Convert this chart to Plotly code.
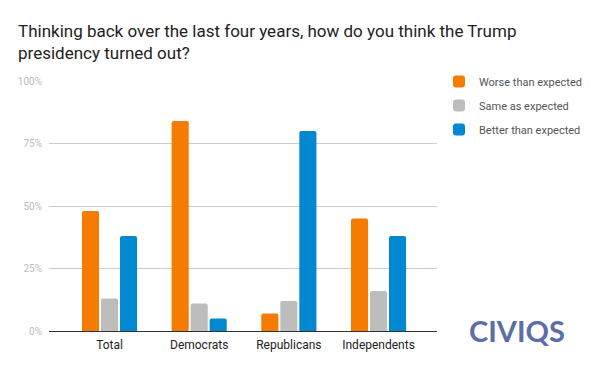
import plotly.graph_objects as go

categories = ["Total", "Democrats", "Republicans", "Independents"]
worse = [48, 84, 7, 45]
same = [13, 11, 12, 16]
better = [38, 5, 80, 38]
series_names = ["Worse than expected", "Same as expected", "Better than expected"]
colors = ["#f57c00", "#bdbdbd", "#0288d1"]
tick_vals = [0, 25, 50, 75, 100]
tick_text = ["0%", "25%", "50%", "75%", "100%"]

fig = go.Figure()
for name, vals, c in zip(series_names, [worse, same, better], colors):
    fig.add_trace(go.Bar(x=categories, y=vals, name=name, legendgroup=name,
                         marker=dict(color=c, line=dict(width=0), cornerradius=2)))

fig.update_layout(
    width=600, height=371,
    barmode="group", bargap=0.364, bargroupgap=0.1,
    plot_bgcolor="white", paper_bgcolor="white",
    margin=dict(l=49, r=163, t=81, b=40, autoexpand=False),
    font=dict(family="Roboto", color="#222"),
    title=dict(
        text="Thinking back over the last four years, how do you think the Trump<br>presidency turned out?",
        x=18 / 600, xref="container", xanchor="left", y=0.9006, yanchor="top",
        font=dict(size=17, color="#222", family="Roboto"),
    ),
    xaxis=dict(showgrid=False, tickfont=dict(size=12, color="#222"), ticks="", showline=False,
               ticklabelstandoff=5, range=[-0.675, 3.652]),
    yaxis=dict(range=[0, 100], tickvals=tick_vals, ticktext=tick_text, showgrid=True,
               gridcolor="#cccccc", gridwidth=1, zeroline=True, zerolinecolor="#333333", zerolinewidth=1,
               tickfont=dict(size=10, color="#bbbbbb"), ticks="", ticklabelstandoff=6),
    legend=dict(xref="container", yref="container", x=439 / 600, y=1 - 67 / 371,
                xanchor="left", yanchor="top", font=dict(size=11, color="#555"),
                tracegroupgap=5, itemwidth=30),
    showlegend=True,
)

fig.add_annotation(text="<b>CIVIQS</b>", xref="paper", yref="paper", x=1.206, y=0.004,
                   xanchor="center", yanchor="middle", showarrow=False,
                   font=dict(size=29, color="#5b6ea6", family="Lato"))

fig.write_html("out.html", config={"displayModeBar": False},
               post_script="document.body.style.margin='0';document.body.style.padding='0';")
